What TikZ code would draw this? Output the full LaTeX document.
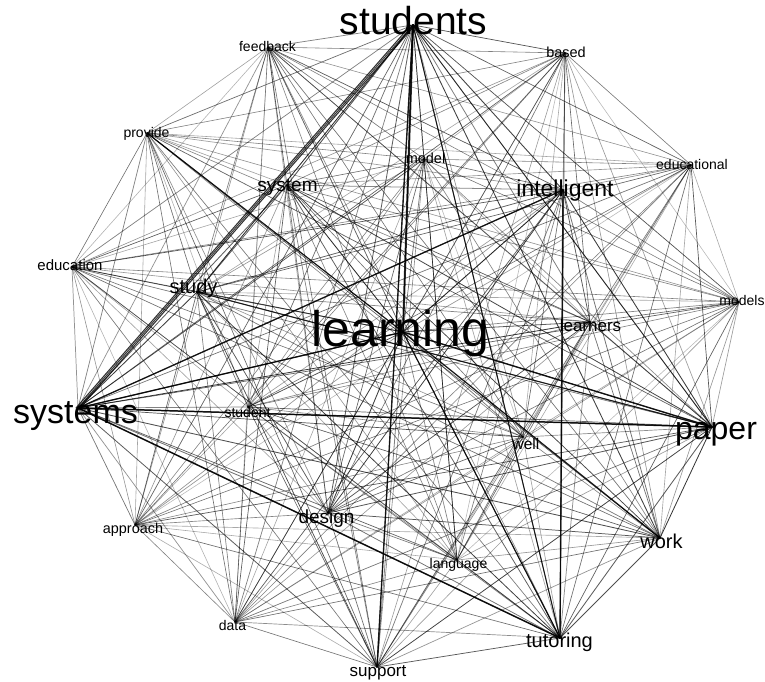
\documentclass[tikz,border=0pt]{standalone}
\usepackage{fontspec}
\setmainfont{Liberation Sans}
\begin{document}
\begin{tikzpicture}[x=1pt,y=-1pt,
  lbl/.style={anchor=base, inner sep=0pt, text=black},
  edge/.style={draw=black, line cap=round},
  strong/.style={draw=black, line cap=round, draw opacity=0.8}]
\useasboundingbox[fill=white] (0,0) rectangle (765,681);
% node points
\coordinate (students) at (413,25);
\coordinate (feedback) at (268,47);
\coordinate (based) at (565,53);
\coordinate (provide) at (147,133);
\coordinate (model) at (424,159);
\coordinate (educational) at (691,165);
\coordinate (system) at (287,185);
\coordinate (intelligent) at (563,190);
\coordinate (education) at (72,267);
\coordinate (study) at (197,292);
\coordinate (models) at (739,302);
\coordinate (learners) at (590,322);
\coordinate (learning) at (403,332);
\coordinate (systems) at (78,408);
\coordinate (student) at (248,407);
\coordinate (paper) at (712,427);
\coordinate (well) at (523,437);
\coordinate (design) at (328,513);
\coordinate (approach) at (135,525);
\coordinate (work) at (660,538);
\coordinate (language) at (457,560);
\coordinate (data) at (235,622);
\coordinate (tutoring) at (560,638);
\coordinate (support) at (377,667);
% edges
\def\NL{students/1,learning/1,systems/1,paper/0.9,intelligent/0.8,tutoring/0.8,work/0.7,design/0.7,study/0.7,system/0.7,learners/0.6,support/0.6,feedback/0.45,based/0.4,provide/0.45,model/0.4,educational/0.4,education/0.45,models/0.4,student/0.45,well/0.4,approach/0.4,data/0.45,language/0.4}
\foreach \a/\wa [count=\i] in \NL {
  \foreach \b/\wb [count=\j] in \NL {
    \ifnum\i<\j
      \pgfmathsetmacro\op{min(0.85,0.2+0.5*\wa*\wb+0.07*mod(\i*7+\j*13,5))}
      \pgfmathsetmacro\lw{0.5+0.5*\wa*\wb}
      \draw[edge, line width=\lw pt, draw opacity=\op] (\a) -- (\b);
    \fi
  }
}
% strong edges
\draw[strong, line width=1.1pt] ([xshift=-2pt]students) -- ([xshift=-2pt]systems);
\draw[strong, line width=1.1pt] ([xshift=2pt]students) -- ([xshift=2pt]systems);
\draw[strong, line width=2pt] (students) -- (learning);
\draw[strong, line width=1.4pt] (students) -- (support);
\draw[strong, line width=1.5pt] (systems) -- (tutoring);
\draw[strong, line width=1.3pt] (systems) -- (learning);
\draw[strong, line width=1.3pt] (systems) -- (intelligent);
\draw[strong, line width=1.5pt] (systems) -- (paper);
\draw[strong, line width=1.4pt] (learning) -- (paper);
\draw[strong, line width=1.2pt] (learning) -- (work);
\draw[strong, line width=1.4pt] (intelligent) -- (tutoring);
\draw[strong, line width=1.1pt] (learning) -- (tutoring);
\draw[strong, line width=1.1pt] (study) -- (paper);
\draw[strong, line width=1.1pt] (provide) -- (learning);
\draw[strong, line width=1.0pt] (students) -- (tutoring);
% labels
\node[lbl, font=\fontsize{39}{39}\selectfont] (Lstudents) at (413.5,34) {students};
\node[lbl, font=\fontsize{14}{14}\selectfont] (Lfeedback) at (267.5,51) {feedback};
\node[lbl, font=\fontsize{14.5}{14.5}\selectfont] (Lbased) at (566,57) {based};
\node[lbl, font=\fontsize{14}{14}\selectfont] (Lprovide) at (146.5,137) {provide};
\node[lbl, font=\fontsize{14.5}{14.5}\selectfont] (Lmodel) at (425.5,163) {model};
\node[lbl, font=\fontsize{14}{14}\selectfont] (Leducational) at (692,169) {educational};
\node[lbl, font=\fontsize{19}{19}\selectfont] (Lsystem) at (287.5,191) {system};
\node[lbl, font=\fontsize{23}{23}\selectfont] (Lintelligent) at (565,196) {intelligent};
\node[lbl, font=\fontsize{15}{15}\selectfont] (Leducation) at (70,270) {education};
\node[lbl, font=\fontsize{20}{20}\selectfont] (Lstudy) at (193.5,293) {study};
\node[lbl, font=\fontsize{14}{14}\selectfont] (Lmodels) at (742,305) {models};
\node[lbl, font=\fontsize{17}{17}\selectfont] (Llearners) at (590.5,331) {learners};
\node[lbl, font=\fontsize{50}{50}\selectfont] (Llearning) at (400.5,346) {learning};
\node[lbl, font=\fontsize{34}{34}\selectfont] (Lsystems) at (75.5,423) {systems};
\node[lbl, font=\fontsize{14}{14}\selectfont] (Lstudent) at (247.5,417) {student};
\node[lbl, font=\fontsize{32}{32}\selectfont] (Lpaper) at (716,439) {paper};
\node[lbl, font=\fontsize{15.5}{15.5}\selectfont] (Lwell) at (526,449) {well};
\node[lbl, font=\fontsize{19}{19}\selectfont] (Ldesign) at (326.5,523) {design};
\node[lbl, font=\fontsize{14.4}{14.4}\selectfont] (Lapproach) at (133,533) {approach};
\node[lbl, font=\fontsize{20}{20}\selectfont] (Lwork) at (661.5,548) {work};
\node[lbl, font=\fontsize{14}{14}\selectfont] (Llanguage) at (458.5,568) {language};
\node[lbl, font=\fontsize{14}{14}\selectfont] (Ldata) at (232.5,630) {data};
\node[lbl, font=\fontsize{20}{20}\selectfont] (Ltutoring) at (559.5,647) {tutoring};
\node[lbl, font=\fontsize{17}{17}\selectfont] (Lsupport) at (378,676) {support};
\end{tikzpicture}
\end{document}
